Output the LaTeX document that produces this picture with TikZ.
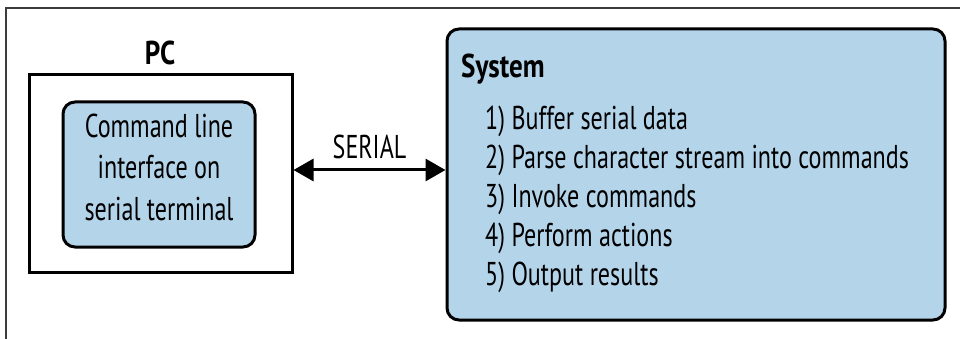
\documentclass[tikz,border=0pt]{standalone}
\usepackage{fontspec}
\setmainfont{PT Sans}[FakeStretch=0.73, BoldFeatures={FakeStretch=0.82}]
\usetikzlibrary{arrows.meta}
\definecolor{boxblue}{RGB}{180,212,234}
\definecolor{framegray}{RGB}{60,60,60}
\tikzset{
  txt/.style={font=\fontsize{33}{41.5}\selectfont, inner sep=0pt},
  btxt/.style={font=\fontsize{33}{41.5}\selectfont\bfseries, inner sep=0pt},
  plainbox/.style={draw, line width=3pt, rectangle, inner sep=0pt},
  bluebox/.style={draw, line width=3pt, fill=boxblue, rounded corners=12pt, inner sep=0pt},
  link/.style={line width=3pt, {Triangle[length=20pt,width=22pt]}-{Triangle[length=20pt,width=22pt]}, shorten <=0pt, shorten >=0pt}
}
\begin{document}
\begin{tikzpicture}[x=1pt,y=-1pt]
\useasboundingbox (0,0) rectangle (960,339);
\draw[framegray, line width=1.2pt] (6,339) -- (6,8) -- (960,8);
\node[plainbox, minimum width=263pt, minimum height=197pt] (pc) at (160.5,173.5) {};
\node[btxt, anchor=base] (pclabel) at (160,65) {PC};
\node[bluebox, minimum width=192pt, minimum height=145pt] (cli) at (159,174.5) {};
\node[txt, align=center, anchor=base] (clitext) at (159,220) {Command line\\interface on\\serial terminal};
\node[bluebox, minimum width=498pt, minimum height=291pt] (sys) at (696,174.5) {};
\node[btxt, anchor=base west] (systitle) at (461,78) {System};
\node[txt, anchor=base west] (s1) at (485,130) {1) Buffer serial data};
\node[txt, anchor=base west] (s2) at (485,169) {2) Parse character stream into commands};
\node[txt, anchor=base west] (s3) at (485,207) {3) Invoke commands};
\node[txt, anchor=base west] (s4) at (485,246) {4) Perform actions};
\node[txt, anchor=base west] (s5) at (485,285) {5) Output results};
\draw[link] ([yshift=3.5pt]pc.east) -- ([yshift=4.5pt]sys.west) node[midway, above=10pt, txt] (serial) {SERIAL};
\end{tikzpicture}
\end{document}
